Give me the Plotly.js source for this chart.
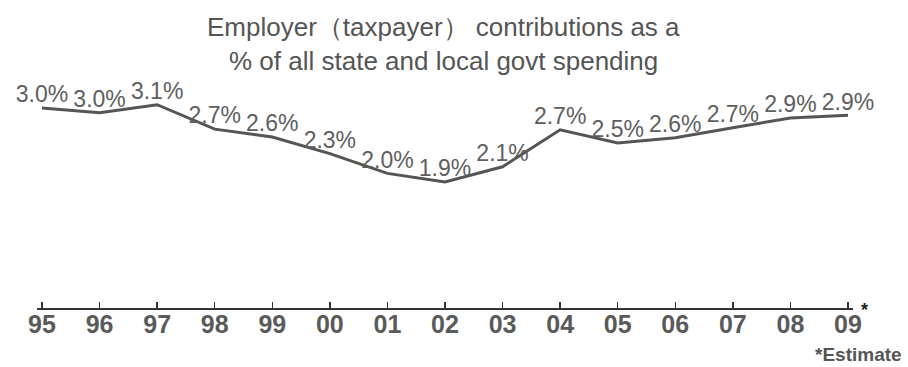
<!DOCTYPE html>
<html>
<head>
<meta charset="utf-8">
<script src="https://cdn.plot.ly/plotly-3.0.1.min.js"></script>
<style>html,body{margin:0;padding:0;background:#fff;}#chart{width:908px;height:367px;}</style>
</head>
<body>
<div id="chart"></div>
<script>
const years = ["95","96","97","98","99","00","01","02","03","04","05","06","07","08","09"];
const shares = [3.03, 2.96, 3.08, 2.71, 2.59, 2.34, 2.04, 1.91, 2.14, 2.70, 2.50, 2.58, 2.73, 2.88, 2.92];
const titleLine1 = "Employer（taxpayer） contributions as a";
const titleLine2 = "% of all state and local govt spending";
const footnote = "*Estimate";

const idx = years.map((_, i) => i);

const trace = {
  type: "scatter",
  mode: "lines+text",
  x: idx,
  y: shares,
  text: shares.map(v => v.toFixed(1) + "%"),
  textposition: "top center",
  textfont: {family: "Liberation Sans, Arial, sans-serif", size: 23, color: "#5e5e5e"},
  line: {color: "#555555", width: 3},
  cliponaxis: false,
  hoverinfo: "skip"
};

const layout = {
  width: 908, height: 367,
  margin: {l: 37, r: 55, t: 70, b: 59},
  paper_bgcolor: "#ffffff",
  plot_bgcolor: "#ffffff",
  showlegend: false,
  xaxis: {
    range: [-0.087, 14.087],
    tickmode: "array",
    tickvals: idx,
    ticktext: years,
    ticks: "inside",
    ticklen: 6,
    tickwidth: 1.5,
    tickcolor: "#333",
    showline: true,
    linecolor: "#333",
    linewidth: 2,
    showgrid: false,
    zeroline: false,
    ticklabelstandoff: -7,
    tickfont: {family: "Liberation Sans, Arial, sans-serif", size: 25, color: "#5a5a5a", weight: "bold"},
    fixedrange: true
  },
  yaxis: {
    range: [0, 3.606],
    visible: false,
    showgrid: false,
    zeroline: false,
    fixedrange: true
  },
  annotations: [
    {xref: "paper", yref: "paper", x: 0.498, y: 1.181, xanchor: "center", yanchor: "middle",
     text: titleLine1, showarrow: false,
     font: {family: "Liberation Sans, Arial, sans-serif", size: 26, color: "#555"}},
    {xref: "paper", yref: "paper", x: 0.498, y: 1.038, xanchor: "center", yanchor: "middle",
     text: titleLine2, showarrow: false,
     font: {family: "Liberation Sans, Arial, sans-serif", size: 26, color: "#555"}},
    {xref: "x", yref: "paper", x: 14, y: 0, xanchor: "center", yanchor: "middle",
     xshift: 17, yshift: -2, text: "*", showarrow: false,
     font: {family: "Liberation Sans, Arial, sans-serif", size: 18, color: "#222", weight: "bold"}},
    {xref: "paper", yref: "paper", x: 1.062, y: -0.195, xanchor: "right", yanchor: "middle",
     text: footnote, showarrow: false,
     font: {family: "Liberation Sans, Arial, sans-serif", size: 19, color: "#555", weight: "bold"}}
  ]
};

Plotly.newPlot("chart", [trace], layout, {displayModeBar: false, staticPlot: true});
</script>
</body>
</html>
